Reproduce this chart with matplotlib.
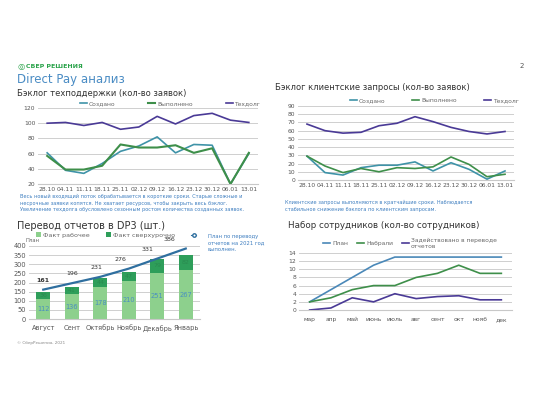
import numpy as np
import matplotlib
matplotlib.use("Agg")
import matplotlib.pyplot as plt
from matplotlib.lines import Line2D

plt.rcParams['font.family'] = ['DejaVu Sans']

# --- data ---
weeks = ['28.10', '04.11', '11.11', '18.11', '25.11', '02.12', '09.12', '16.12', '23.12', '30.12', '06.01', '13.01']

tech_created = [61, 38, 34, 47, 63, 70, 82, 61, 72, 71, 20, 60]
tech_done = [57, 39, 39, 44, 72, 68, 68, 71, 61, 67, 20, 61]
tech_debt = [100, 101, 97, 101, 92, 95, 109, 99, 110, 113, 104, 101]

cli_created = [29, 9, 6, 15, 18, 18, 22, 11, 21, 13, 1, 11]
cli_done = [29, 17, 9, 14, 10, 15, 14, 16, 28, 19, 4, 7]
cli_debt = [68, 60, 57, 58, 66, 69, 77, 71, 64, 59, 56, 59]

months_dp3 = ['Август', 'Сент', 'Октябрь', 'Ноябрь', 'Декабрь', 'Январь']
fact_work = [112, 136, 178, 210, 251, 267]
fact_over = [36, 41, 44, 47, 79, 82]
plan_dp3 = [161, 196, 231, 276, 331, 386]

months_hire = ['мар', 'апр', 'май', 'июнь', 'июль', 'авг', 'сент', 'окт', 'нояб', 'дек']
hire_plan = [2, 5, 8, 11, 13, 13, 13, 13, 13, 13]
hire_got = [2, 3, 5, 6, 6, 8, 9, 11, 9, 9]
hire_used = [0, 0.5, 3, 2, 4, 2.8, 3.3, 3.5, 2.5, 2.5]

W, H = 540, 405
fig = plt.figure(figsize=(5.4, 4.05), dpi=100)
fig.patch.set_facecolor('white')

def ax_px(x0, y0, x1, y1):
    # pixel box (top-left origin) -> figure axes
    return fig.add_axes([x0 / W, 1 - y1 / H, (x1 - x0) / W, (y1 - y0) / H])

def txt(x, y, s, **kw):
    fig.text(x / W, 1 - y / H, s, **kw)

def style(ax):
    for s in ['top', 'right', 'left']:
        ax.spines[s].set_visible(False)
    ax.spines['bottom'].set_color('#c8c8c8')
    ax.grid(axis='y', color='#cfcfcf', lw=0.7)
    ax.set_axisbelow(True)
    ax.tick_params(length=0, labelsize=4.3, colors='#555555', pad=2)

teal = '#3f93a8'
green = '#3e8f4a'
purple = '#4a3a96'
blue_txt = '#3f7fc0'

# header
txt(17, 66, '◎', fontsize=6, color='#2aa34a', va='center')
txt(26, 66, 'СБЕР РЕШЕНИЯ', fontsize=4.5, color='#2aa34a', va='center', weight='bold')
txt(520, 66, '2', fontsize=5, color='#555555', va='center')
txt(17, 80, 'Direct Pay анализ', fontsize=8.5, color='#4a8cc4', va='center')

# chart 1
txt(17, 93, 'Бэклог техподдержки (кол-во заявок)', fontsize=6, color='#333333', va='center')
ax1 = ax_px(38, 108, 258, 184)
x = np.arange(len(weeks))
ax1.plot(x, tech_created, color=teal, lw=1.2, label='Создано')
ax1.plot(x, tech_done, color=green, lw=1.5, label='Выполнено')
ax1.plot(x, tech_debt, color=purple, lw=1.2, label='Техдолг')
ax1.set_ylim(20, 120)
ax1.set_yticks(range(20, 121, 20))
ax1.set_xlim(-0.5, 11.5)
ax1.set_xticks(x)
ax1.set_xticklabels(weeks)
style(ax1)
ax1.legend(loc='lower center', bbox_to_anchor=(0.6, 0.98), ncol=3, fontsize=4.3, frameon=False,
           handlelength=1.2, columnspacing=5.5, borderpad=0, handletextpad=0.3, labelcolor='#666666')
note1 = ('Весь новый входящий поток обрабатывается в короткие сроки. Старые сложные и\n'
         'несрочные заявки копятся. Не хватает ресурсов, чтобы закрыть весь бэклог.\n'
         'Увеличение техдолга обусловлено сезонным ростом количества созданных заявок.')
txt(20, 203, note1, fontsize=3.6, color=blue_txt, va='center', linespacing=1.3)

# chart 2
txt(275, 88, 'Бэклог клиентские запросы (кол-во заявок)', fontsize=6, color='#333333', va='center')
ax2 = ax_px(298, 106, 514, 180)
ax2.plot(x, cli_created, color=teal, lw=1.2, label='Создано')
ax2.plot(x, cli_done, color=green, lw=1.2, label='Выполнено')
ax2.plot(x, cli_debt, color=purple, lw=1.2, label='Техдолг')
ax2.set_ylim(0, 90)
ax2.set_yticks(range(0, 91, 10))
ax2.set_xlim(-0.5, 11.5)
ax2.set_xticks(x)
ax2.set_xticklabels(weeks)
style(ax2)
ax2.legend(loc='lower center', bbox_to_anchor=(0.63, 1.0), ncol=3, fontsize=4.3, frameon=False,
           handlelength=1.2, columnspacing=4.5, borderpad=0, handletextpad=0.3, labelcolor='#666666')
note2 = ('Клиентские запросы выполняются в кратчайшие сроки. Наблюдается\n'
         'стабильное снижение бэклога по клиентским запросам.')
txt(285, 206, note2, fontsize=3.6, color=blue_txt, va='center', linespacing=1.3)

# chart 3
txt(17, 226, 'Перевод отчетов в DP3 (шт.)', fontsize=7, color='#333333', va='center')
ax3 = ax_px(29, 246, 200, 319)
xm = np.arange(len(months_dp3))
b1 = ax3.bar(xm, fact_work, width=0.5, color='#8dd08d')
b2 = ax3.bar(xm, fact_over, width=0.5, bottom=fact_work, color='#2e9e5a')
ax3.plot(xm, plan_dp3, color='#2f6f9f', lw=1.6)
label_dx = [0, 0, -3, -6, -7, -12]
for i in range(len(xm)):
    ax3.text(xm[i], fact_work[i] / 2, str(fact_work[i]), ha='center', va='center', fontsize=4.8, color='#4a90c0')
    ax3.text(xm[i], fact_work[i] + fact_over[i] / 2, str(fact_over[i]), ha='center', va='center',
             fontsize=4.5, color='#2a8a50')
    ax3.annotate(str(plan_dp3[i]), (xm[i], plan_dp3[i]), xytext=(label_dx[i], 5),
                 textcoords='offset points', ha='center', va='bottom', fontsize=4.5,
                 color='#333333', weight='bold' if i == 0 else 'normal')
ax3.set_ylim(0, 400)
ax3.set_yticks(range(0, 401, 50))
ax3.set_xlim(-0.5, 5.5)
ax3.set_xticks(xm)
ax3.set_xticklabels(months_dp3)
style(ax3)
ax3.tick_params(axis='x', labelsize=4.8, pad=4)
ax3.tick_params(axis='y', labelsize=4.8)
plan_handle = Line2D([], [], color='#2f6f9f', marker='o', markersize=2.5, lw=0.8, markerfacecolor='white')
fig.legend([b1, b2, plan_handle], ['Факт рабочее', 'Факт сверхурочно', ''],
           loc='center left', bbox_to_anchor=(33 / W, 1 - 235 / H), ncol=3, fontsize=4.6,
           frameon=False, handlelength=0.8, handleheight=0.8, columnspacing=2.5, borderpad=0,
           handletextpad=0.3, labelcolor='#666666')
txt(25, 240.5, 'План', fontsize=3.8, color='#666666', va='center')
txt(208, 243, 'План по переводу\nотчетов на 2021 год\nвыполнен.', fontsize=3.8, color=blue_txt,
    va='center', linespacing=1.3)
txt(17, 343, '© СберРешения, 2021', fontsize=3, color='#888888', va='center')

# chart 4
txt(288, 226, 'Набор сотрудников (кол-во сотрудников)', fontsize=6.3, color='#333333', va='center')
ax4 = ax_px(299, 253, 512, 310)
xh = np.arange(len(months_hire))
ax4.plot(xh, hire_plan, color='#4a88b8', lw=1.2, label='План')
ax4.plot(xh, hire_got, color=green, lw=1.2, label='Набрали')
ax4.plot(xh, hire_used, color=purple, lw=1.2, label='Задействовано в переводе\nотчетов')
ax4.set_ylim(0, 14)
ax4.set_yticks(range(0, 15, 2))
ax4.set_xlim(-0.5, 9.5)
ax4.set_xticks(xh)
ax4.set_xticklabels(months_hire)
style(ax4)
ax4.tick_params(axis='x', pad=5)
ax4.legend(loc='lower left', bbox_to_anchor=(0.1, 1.02), ncol=3, fontsize=4.3, frameon=False,
           handlelength=1.2, columnspacing=1.5, borderpad=0, handletextpad=0.3, labelcolor='#666666')

fig.savefig('out.png', dpi=100, facecolor='white')
